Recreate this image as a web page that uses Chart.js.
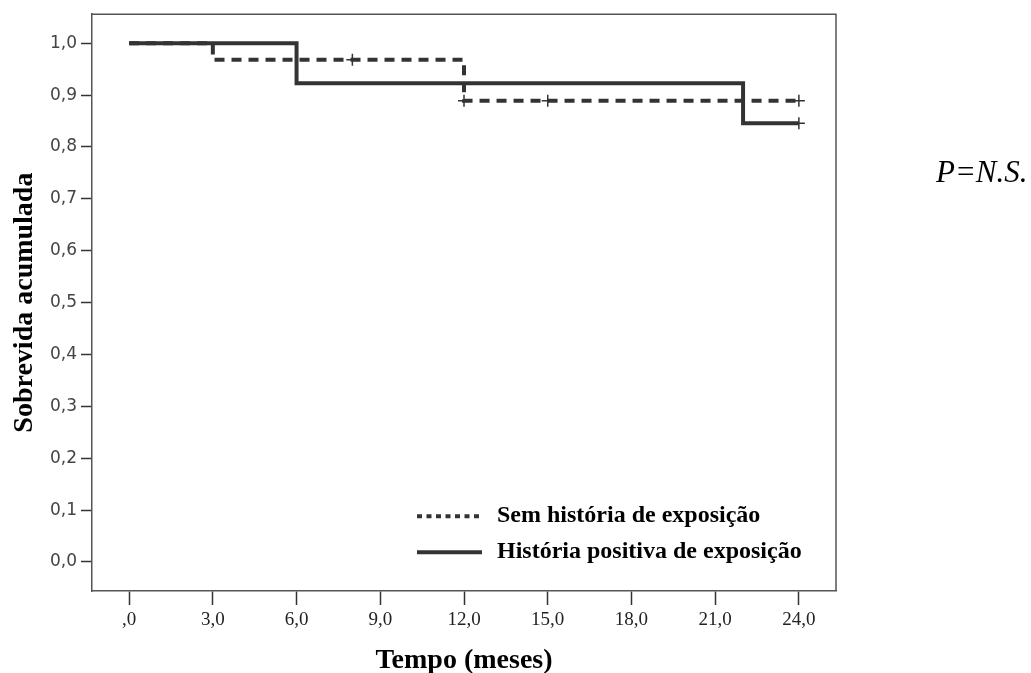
<!DOCTYPE html>
<html>
<head>
<meta charset="utf-8">
<script src="https://cdn.jsdelivr.net/npm/chart.js@4.4.1/dist/chart.umd.min.js"></script>
<style>
  html, body { margin: 0; padding: 0; background: #fff; }
  #wrap { position: relative; width: 1031px; height: 673px; }
  #pval { position: absolute; left: 936px; top: 156px; font: italic 31px/31px "Liberation Serif", serif; color: #000; }
</style>
</head>
<body>
<div id="wrap">
  <canvas id="chart" width="1031" height="673"></canvas>
  <div id="pval">P=N.S.</div>
</div>
<script>
// Kaplan-Meier curves (time in months, cumulative survival)
const semTime = [0, 3, 12, 24]
const semSurv = [1.0, 0.968, 0.889, 0.889]
const semCensTime = [8, 12, 15, 24]
const semCensSurv = [0.968, 0.889, 0.889, 0.889]

const posTime = [0, 6, 22, 24]
const posSurv = [1.0, 0.923, 0.846, 0.846]
const posCensTime = [24]
const posCensSurv = [0.846]

const xTicks = [0, 3, 6, 9, 12, 15, 18, 21, 24]
const xTickLabels = [",0", "3,0", "6,0", "9,0", "12,0", "15,0", "18,0", "21,0", "24,0"]
const yTicks = [0, 0.1, 0.2, 0.3, 0.4, 0.5, 0.6, 0.7, 0.8, 0.9, 1.0]
const yTickLabels = ["0,0", "0,1", "0,2", "0,3", "0,4", "0,5", "0,6", "0,7", "0,8", "0,9", "1,0"]

const legendLabels = ["Sem história de exposição", "História positiva de exposição"]

const lineColor = "#333333"

function pts(xs, ys) {
  return xs.map((x, i) => ({ x: x, y: ys[i] }))
}

// frame on top/right + legend inside the plot area
const framePlugin = {
  id: "frame",
  afterDraw(chart) {
    const ctx = chart.ctx
    const a = chart.chartArea
    ctx.save()
    ctx.strokeStyle = "#555"
    ctx.lineWidth = 1.5
    ctx.beginPath()
    ctx.moveTo(a.left, a.top)
    ctx.lineTo(a.right, a.top)
    ctx.lineTo(a.right, a.bottom)
    ctx.stroke()

    // legend
    const lx = a.left + 325
    const rows = [a.top + 502, a.top + 538]
    ctx.strokeStyle = lineColor
    ctx.lineWidth = 4
    ctx.setLineDash([5, 4.5])
    ctx.beginPath()
    ctx.moveTo(lx, rows[0])
    ctx.lineTo(lx + 65, rows[0])
    ctx.stroke()
    ctx.setLineDash([])
    ctx.beginPath()
    ctx.moveTo(lx, rows[1])
    ctx.lineTo(lx + 65, rows[1])
    ctx.stroke()
    ctx.fillStyle = "#000"
    ctx.font = "bold 24px 'Liberation Serif', serif"
    ctx.textBaseline = "middle"
    ctx.fillText(legendLabels[0], lx + 80, rows[0])
    ctx.fillText(legendLabels[1], lx + 80, rows[1])
    ctx.restore()
  }
}

new Chart(document.getElementById("chart"), {
  type: "line",
  data: {
    datasets: [
      {
        data: pts(semTime, semSurv),
        stepped: "before",
        borderColor: lineColor,
        borderWidth: 4,
        borderDash: [10, 7],
        pointRadius: 0,
        fill: false,
        order: 4
      },
      {
        data: pts(posTime, posSurv),
        stepped: "before",
        borderColor: lineColor,
        borderWidth: 4,
        pointRadius: 0,
        fill: false,
        order: 3
      },
      {
        data: pts(semCensTime, semCensSurv),
        showLine: false,
        pointStyle: "cross",
        pointRadius: 6,
        pointBorderWidth: 1.5,
        pointBorderColor: lineColor,
        order: 2
      },
      {
        data: pts(posCensTime, posCensSurv),
        showLine: false,
        pointStyle: "cross",
        pointRadius: 6,
        pointBorderWidth: 1.5,
        pointBorderColor: lineColor,
        order: 1
      }
    ]
  },
  options: {
    responsive: false,
    animation: false,
    layout: {
      padding: { left: 0, top: 14, right: 195, bottom: 0 }
    },
    plugins: {
      legend: { display: false },
      tooltip: { enabled: false }
    },
    scales: {
      x: {
        type: "linear",
        min: -1.33,
        max: 25.33,
        afterBuildTicks(scale) {
          scale.ticks = xTicks.map(v => ({ value: v }))
        },
        afterFit(scale) {
          scale.height = 82
        },
        border: { display: true, color: "#555", width: 1.5 },
        grid: {
          drawOnChartArea: false,
          drawTicks: true,
          tickLength: 14,
          tickColor: "#333",
          tickWidth: 1.5
        },
        ticks: {
          autoSkip: false,
          maxRotation: 0,
          padding: 4,
          color: "#222",
          font: { family: "'Liberation Serif', serif", size: 19 },
          callback: function(value) {
            const i = xTicks.indexOf(value)
            return i >= 0 ? xTickLabels[i] : ""
          }
        },
        title: {
          display: true,
          text: "Tempo (meses)",
          color: "#000",
          font: { family: "'Liberation Serif', serif", size: 28, weight: "bold" },
          padding: { top: 0, bottom: -5 }
        }
      },
      y: {
        type: "linear",
        min: -0.056,
        max: 1.056,
        afterBuildTicks(scale) {
          scale.ticks = yTicks.map(v => ({ value: v }))
        },
        afterFit(scale) {
          scale.width = 92
        },
        border: { display: true, color: "#555", width: 1.5 },
        grid: {
          drawOnChartArea: false,
          drawTicks: true,
          tickLength: 11,
          tickColor: "#333",
          tickWidth: 1.5
        },
        ticks: {
          autoSkip: false,
          padding: 4,
          color: "#444",
          font: { family: "'DejaVu Sans', sans-serif", size: 17 },
          callback: function(value) {
            const i = yTicks.findIndex(t => Math.abs(t - value) < 1e-6)
            return i >= 0 ? yTickLabels[i] : ""
          }
        },
        title: {
          display: true,
          text: "Sobrevida acumulada",
          color: "#000",
          font: { family: "'Liberation Serif', serif", size: 28, weight: "bold" },
          padding: { top: 8, bottom: 0 }
        }
      }
    }
  },
  plugins: [framePlugin]
})
</script>
</body>
</html>
